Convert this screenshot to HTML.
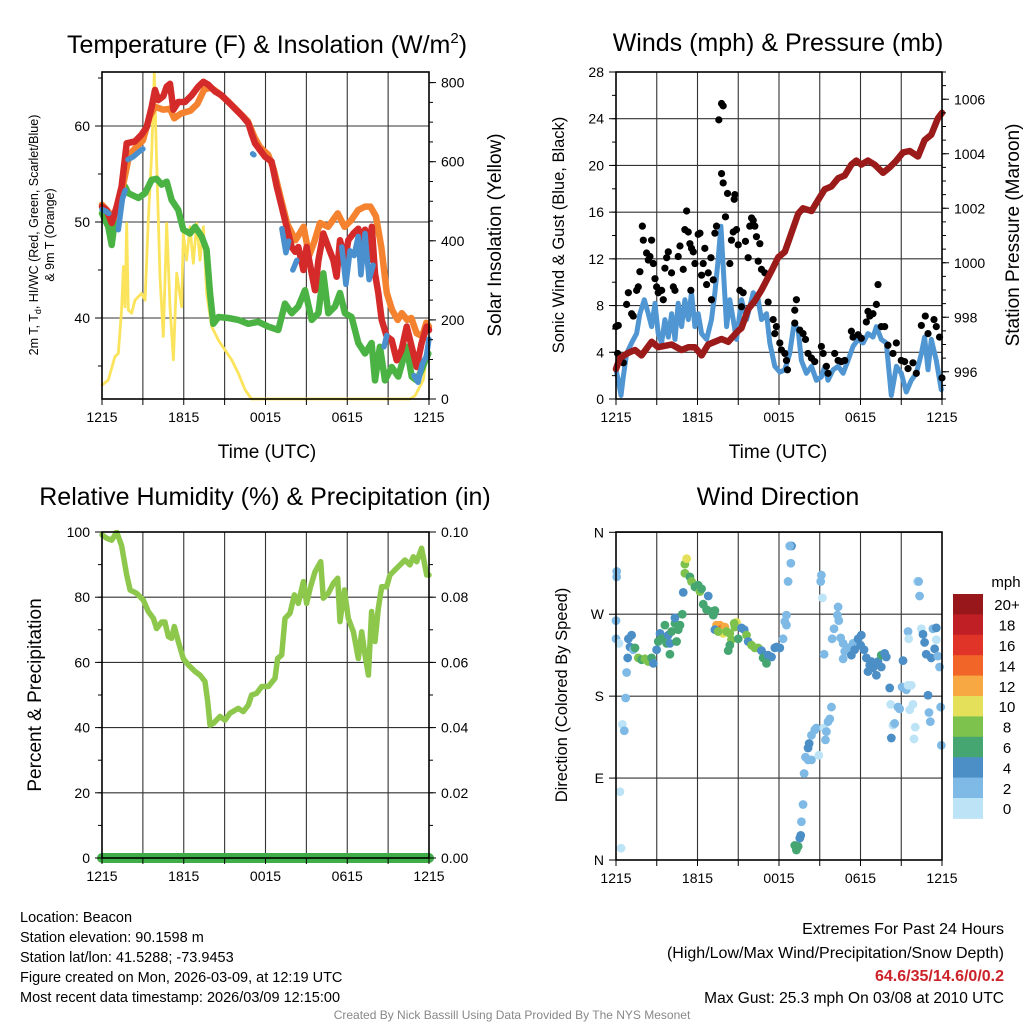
<!DOCTYPE html>
<html><head><meta charset="utf-8"><style>
html,body{margin:0;padding:0;background:#fff;width:1024px;height:1024px;overflow:hidden}
svg{display:block;font-family:"Liberation Sans",Arial,sans-serif}
</style></head><body>
<svg id="chart" width="1024" height="1024" viewBox="0 0 1024 1024" xmlns="http://www.w3.org/2000/svg">
<g id="grids"></g>
<g id="marks"></g>
<g id="axes"></g>
<g id="texts">
<text x="267" y="53" font-size="25" text-anchor="middle">Temperature (F) &amp; Insolation (W/m<tspan font-size="15" dy="-10">2</tspan><tspan dy="10">)</tspan></text>
<text x="778" y="51" font-size="25" text-anchor="middle">Winds (mph) &amp; Pressure (mb)</text>
<text x="265" y="505" font-size="25" text-anchor="middle">Relative Humidity (%) &amp; Precipitation (in)</text>
<text x="778" y="505" font-size="25" text-anchor="middle">Wind Direction</text>
<text x="267" y="458" font-size="19" text-anchor="middle">Time (UTC)</text>
<text x="778" y="458" font-size="19" text-anchor="middle">Time (UTC)</text>
<text font-size="12.5" text-anchor="middle" transform="translate(38,235) rotate(-90)">2m T, T<tspan font-size="9" dy="3">d</tspan><tspan dy="-3">, HI/WC (Red, Green, Scarlet/Blue)</tspan></text>
<text font-size="12.5" text-anchor="middle" transform="translate(54,235) rotate(-90)">&amp; 9m T (Orange)</text>
<text font-size="19" text-anchor="middle" transform="translate(501,235) rotate(-90)">Solar Insolation (Yellow)</text>
<text font-size="16.5" text-anchor="middle" transform="translate(564,235) rotate(-90)">Sonic Wind &amp; Gust (Blue, Black)</text>
<text font-size="19" text-anchor="middle" transform="translate(1019,235) rotate(-90)">Station Pressure (Maroon)</text>
<text font-size="19" text-anchor="middle" transform="translate(41,695) rotate(-90)">Percent &amp; Precipitation</text>
<text font-size="16.5" text-anchor="middle" transform="translate(567,695) rotate(-90)">Direction (Colored By Speed)</text>
<g font-size="14.5">
<text x="20" y="922">Location: Beacon</text>
<text x="20" y="942">Station elevation: 90.1598 m</text>
<text x="20" y="962">Station lat/lon: 41.5288; -73.9453</text>
<text x="20" y="982">Figure created on Mon, 2026-03-09, at 12:19 UTC</text>
<text x="20" y="1002">Most recent data timestamp: 2026/03/09 12:15:00</text>
</g>
<g font-size="16" text-anchor="end">
<text x="1004" y="934">Extremes For Past 24 Hours</text>
<text x="1004" y="958">(High/Low/Max Wind/Precipitation/Snow Depth)</text>
<text x="1004" y="981" font-weight="bold" fill="#cc2229">64.6/35/14.6/0/0.2</text>
<text x="1004" y="1003" font-size="15.5">Max Gust: 25.3 mph On 03/08 at 2010 UTC</text>
</g>
<text x="512" y="1019" font-size="12" fill="#888" text-anchor="middle">Created By Nick Bassill Using Data Provided By The NYS Mesonet</text>
<text x="1006" y="587" font-size="15" text-anchor="middle">mph</text>
</g>
</svg>
<script>
// ---------- DATA ----------
const xTickHours=[0,6,12,18,24];
const xTickLabels=["1215","1815","0015","0615","1215"];
const tempTicks=[40,50,60];
const solarTicks=[0,200,400,600,800];
const windTicks=[0,4,8,12,16,20,24,28];
const presTicks=[996,998,1000,1002,1004,1006];
const rhTicks=[0,20,40,60,80,100];
const precipTickLabels=["0.00","0.02","0.04","0.06","0.08","0.10"];
const dirTicks=[0,90,180,270,360];
const dirTickLabels=["N","E","S","W","N"];
const speedBinLabels=["0","2","4","6","8","10","12","14","16","18","20+"];
const speedColors=["#bde4f6","#7fbae6","#4b8fc6","#46a672","#7cc24d","#e5e05a","#f8a843","#f26529","#e03428","#c11f26","#98171b"];

const redH=[0,0.34,0.71,1.08,1.44,1.81,2.42,2.91,3.28,3.65,3.89,4.13,4.5,4.75,4.99,5.24,5.6,6.09,6.58,7.07,7.44,7.8,8.29,8.78,9.27,9.76,10.25,10.74,10.98,11.23,11.6,11.96,12.45,12.82,13.19,13.55,13.92,14.17,14.41,14.78,15.02,15.39,15.63,15.88,16.24,16.61,16.98,17.22,17.47,17.83,18.08,18.45,18.81,19.06,19.3,19.55,19.8,20.04,20.28,20.53,20.89,21.26,21.63,21.99,22.36,22.73,23.1,23.46,23.83,24];
const redT=[51.6,51.25,49.9,51.6,53.7,58.2,58.4,59.1,59.9,62.0,63.75,62.7,63.1,64.1,64.4,61.7,62.5,62.5,63.2,64.1,64.6,64.3,63.6,63.2,62.5,61.8,61.1,60.3,59.2,58.2,57.5,56.8,56.3,53.7,51.6,49.5,47.4,46.9,47.4,45.0,47.4,44.65,42.9,46.0,48.8,47.4,46.0,44.3,48.1,46.0,48.1,48.8,49.3,47.8,49.2,46.0,49.5,44.65,42.6,39.8,38.1,37.7,35.6,36.7,39.1,37.0,34.9,37.4,39.1,38.75];
const orangeH=[0,0.5,1,1.5,2,2.5,3,3.5,3.9,4.5,5,5.3,5.8,6.5,7,7.5,8,8.5,9.3,10,10.7,11.2,11.6,12.2,12.6,13.2,13.6,14.2,14.8,15.2,15.6,16,16.6,17.3,17.8,18.3,18.8,19.3,19.7,20.1,20.5,20.9,21.3,21.7,22,22.4,22.7,23.1,23.5,23.8,24];
const orangeT=[51.8,51,50.5,53.5,57,57.8,58.5,61,62,61.7,61.8,60.8,61.3,61.6,62.3,63.8,64,63.5,62.5,61.5,60.5,58.8,57.8,57,55.5,52,49.8,48.1,49.5,46.5,48,49.9,49.5,50.9,49.5,50.2,51.25,51.6,51.6,50.6,47.4,42.6,40.8,39.8,40.5,39.8,40,38.4,38.1,39.5,39.1];
// NaN marks a gap in the heat-index / wind-chill series
const blueH=[0,0.3,0.5,NaN,1.2,1.5,1.7,NaN,1.9,2.3,2.7,3.0,NaN,11.05,11.15,NaN,13.2,13.5,13.7,NaN,14.0,14.3,NaN,17.6,17.9,18.2,18.5,18.8,19.0,19.3,19.6,19.9,NaN,20.7,20.9,NaN,22.9,23.2,23.5,23.8,24];
const blueT=[51.3,51.1,50.9,NaN,49.2,52.4,53.3,NaN,56.5,56.8,57.3,57.6,NaN,57.1,57.0,NaN,49.3,46.8,48,NaN,45,46,NaN,47.4,43.5,47.0,46.5,48.5,44.5,48.8,44.0,45.5,NaN,37.0,38.2,NaN,34.0,33.3,35.2,36.0,37.8];
const dewH=[0,0.46,0.71,0.95,1.2,1.69,1.93,2.67,3.16,3.65,4.01,4.38,4.75,5.11,5.6,5.97,6.46,6.83,7.31,7.68,7.93,8.17,8.54,9.27,10.0,10.74,11.47,12.2,12.94,13.43,13.92,14.41,14.9,15.39,15.88,16.24,16.61,17.1,17.47,17.83,18.32,18.81,19.3,19.79,20.04,20.4,20.77,21.26,21.75,22.36,22.73,23.1,23.46,23.95];
const dewT=[50.9,49.5,47.6,50.2,51.9,53.7,53,52.5,53,54.4,54.5,53.9,54.2,52.3,51.25,49.2,48.8,49.5,48.5,47.1,42.6,39.4,40.1,40.0,39.8,39.4,39.6,39.1,38.75,41.5,40.5,41.2,42.9,39.8,40.5,44.65,40.5,41.2,42.6,40.5,40.1,37.4,36.3,37.4,33.5,37,33.5,34.9,33.9,37,33.9,33.5,34.6,36.3];
const solarH=[0,0.46,0.95,1.2,1.44,1.57,1.69,1.81,1.93,2.18,2.42,2.91,3.16,3.4,3.65,3.84,4.01,4.26,4.5,4.75,4.99,5.24,5.48,5.85,5.97,6.21,6.46,6.7,6.95,7.19,7.44,7.68,8.05,8.54,9.03,9.52,10.0,10.5,10.98,22.6,22.97,23.58,23.95];
const solarW=[35,48,107,115,225,335,233,444,225,217,250,267,250,453,621,823,604,309,158,444,233,99,318,233,419,351,436,343,444,351,436,267,183,149,124,99,65,23,0,0,8,48,142];

const windH=[0,0.17,0.37,0.54,0.78,1.15,1.52,1.76,2.08,2.38,2.62,2.87,3.11,3.36,3.6,3.85,4.09,4.34,4.58,4.83,5.07,5.32,5.56,5.81,6.05,6.3,6.67,7.03,7.28,7.52,7.72,7.89,8.14,8.38,8.63,8.87,9.24,9.61,9.85,10.1,10.47,10.71,11.08,11.32,11.69,12.06,12.43,12.79,13.11,13.41,13.65,14.02,14.39,14.75,15.12,15.37,15.61,15.98,16.35,16.72,17.08,17.45,17.82,18.19,18.55,18.92,19.17,19.53,19.9,20.27,20.64,21.0,21.37,21.74,22.11,22.48,22.72,22.97,23.21,23.58,23.95];
const windV=[2.5,1.6,0.3,1.9,3.9,4.8,5.6,7.3,8.5,7.3,6.2,8.2,5.6,4.8,6.8,5.3,7.3,5.1,8.2,6.2,8.5,6.8,9.1,6.2,7.3,5.6,5.1,6.8,9.1,11.9,14.8,11.3,6.2,8.5,6.8,5.1,8.5,6.8,7.9,9.1,8.5,6.8,7.3,4.8,2.8,2.3,2.5,3.9,6.5,5.9,3.3,2.2,2.8,1.6,1.9,2.8,1.6,2.5,2.8,2.2,3.3,4.5,5.1,4.8,5.6,5.3,6.2,5.1,4.8,0.3,2.8,2.2,0.6,1.6,2.2,3.9,5.3,2.5,5.1,3.3,0.8];
const gustH=[0,0.17,0.12,0.54,0.78,0.91,1.15,1.27,1.52,1.64,1.76,1.94,2.01,2.25,2.38,2.5,2.62,2.75,2.87,2.99,3.11,3.36,3.48,3.6,3.73,3.85,4.09,4.22,4.34,4.58,4.71,4.95,5.07,5.2,5.32,5.44,5.51,5.56,5.69,5.81,6.05,6.18,6.3,6.42,6.54,6.67,6.79,6.99,7.03,7.16,7.28,7.4,7.57,7.77,7.89,7.77,7.89,8.06,8.21,8.38,8.5,8.63,8.7,8.75,8.87,9.0,9.12,9.24,9.36,9.53,9.73,9.85,9.98,10.1,10.22,10.34,10.47,10.59,10.71,10.96,11.2,11.57,11.69,11.81,12.06,12.18,12.43,12.55,12.62,13.16,13.28,13.16,13.53,13.77,13.95,14.14,14.39,14.63,15.12,15.25,15.49,15.61,16.1,16.35,16.59,16.84,17.33,17.45,17.82,18.06,18.43,18.55,18.68,18.92,19.17,19.29,19.53,19.78,20.02,20.39,20.64,21.0,21.25,21.5,21.86,22.11,22.48,22.77,22.97,23.41,23.58,23.82,24.0];
const gustV=[6.2,6.3,3.9,3.1,8.1,9.1,7.3,7.1,9.3,9.6,10.9,14.8,13.6,12.5,11.9,12.2,13.6,11.6,10.3,9.6,9.1,9.3,8.5,11.2,12.1,12.6,10.8,9.6,9.3,12.2,13.1,11.1,14.5,16.1,14.3,13.3,9.3,12.9,12.6,11.6,14.1,14.2,10.6,11.6,12.9,9.8,10.8,12.1,8.5,10.2,14.2,14.8,23.9,25.3,25.1,19.3,18.5,15.6,17.6,11.6,13.6,14.3,17.1,17.5,14.5,13.2,9.3,7.9,9.1,13.5,12.1,14.8,15.5,15.3,14.8,13.9,11.8,13.3,11.1,10.8,8.3,6.8,5.6,6.2,4.8,4.2,3.9,3.3,2.5,7.6,8.5,6.5,5.9,5.6,5.1,3.9,3.5,3.2,4.5,3.9,2.8,2.2,3.9,3.3,3.2,3.3,5.8,5.3,5.5,5.2,6.6,7.5,7.1,7.3,8.1,9.8,6.2,6.2,4.6,3.9,4.8,3.3,3.2,2.6,3.1,2.2,6.3,7.1,5.6,6.8,6.2,5.3,1.8];
const presH=[0,0.29,0.91,1.4,1.88,2.62,3.11,4.09,4.83,5.32,5.81,6.3,6.79,7.77,8.26,8.99,9.24,9.73,10.22,10.71,11.45,11.94,12.43,12.92,13.41,13.77,14.39,14.88,15.37,15.86,16.35,16.84,17.33,17.7,18.06,18.55,19.04,19.66,20.15,20.64,21.13,21.62,22.23,22.72,23.21,23.7,24.0];
const presV=[996.1,996.5,996.7,996.8,996.6,997.1,996.9,997.0,996.8,996.9,996.9,996.6,997.0,997.2,997.1,997.5,997.6,998.3,998.6,999.0,999.7,1000.2,1000.4,1001.1,1001.8,1002.0,1001.9,1002.3,1002.7,1002.8,1003.1,1003.2,1003.6,1003.75,1003.6,1003.75,1003.6,1003.3,1003.5,1003.75,1004.05,1004.1,1003.9,1004.5,1004.7,1005.3,1005.5];

const rhH=[0,0.34,0.71,1.08,1.44,1.81,2.06,2.54,3.03,3.4,3.77,4.01,4.38,4.62,4.87,5.11,5.31,5.6,5.97,6.34,6.83,7.19,7.56,7.76,7.93,8.17,8.66,9.03,9.39,10.0,10.37,10.74,10.98,11.35,11.72,12.21,12.7,12.89,13.19,13.43,13.8,14.12,14.41,14.78,15.02,15.27,15.63,16.05,16.24,16.61,16.98,17.3,17.47,17.79,18.08,18.45,18.81,19.06,19.3,19.55,19.79,20.04,20.28,20.53,20.89,21.14,21.63,22.24,22.6,22.85,23.1,23.46,23.83,24];
const rhV=[99.1,98.1,97.5,100,95.8,86.8,82.2,81.2,79.1,75.6,73.5,70.4,72.4,72.4,67.9,67.4,71,66.4,61.2,59.2,57.2,56.1,54.1,48,40.8,41.3,43.4,42.3,44.4,45.9,44.9,46.9,50,50.5,52.6,52.6,55.1,61.2,62.3,73.5,75.1,80.7,78.1,84.8,78.1,82.7,87.8,90.9,79.7,81.2,84.3,85.8,72.5,82.2,73.5,69.4,61.2,69.4,62.3,56.1,75.6,66.4,76.6,83.2,83.2,86.8,88.9,91.4,89.9,92.4,90.9,95,86.8,86.8];
const precipH=[0,24];
const precipV=[0,0];

const dirH=[0.05,0.05,0,0,0.22,0.91,1.15,1.03,1.27,1.4,0.86,0.78,0.71,0.47,0.61,0.29,0.37,1.64,1.89,2.13,2.38,2.62,2.75,2.99,3.11,3.24,3.36,3.6,3.73,3.85,3.97,4.09,4.34,4.46,4.58,4.71,4.88,4.95,4.34,3.97,5.07,5.2,5.07,5.44,5.56,5.81,6.05,6.18,6.3,6.79,6.42,6.67,7.03,7.28,7.16,7.4,7.65,7.82,8.01,7.89,7.28,7.52,8.14,8.38,8.5,8.75,8.87,8.7,9.0,9.24,9.44,8.38,8.26,9.61,9.73,9.98,10.22,10.47,10.71,10.96,10.83,11.2,11.45,11.08,11.69,11.81,12.06,12.3,12.92,12.79,12.87,12.67,12.55,12.43,12.55,13.16,13.28,13.41,13.53,13.6,13.65,13.77,13.85,14.14,14.39,13.95,14.14,14.22,14.39,14.63,14.75,14.93,15.32,15.49,15.42,15.74,15.61,15.86,15.12,15.07,15.2,15.32,16.35,16.3,16.4,16.05,15.91,16.54,16.72,16.84,16.72,17.08,17.45,17.57,17.82,18.06,18.01,18.26,17.33,18.43,18.8,18.68,19.04,18.92,18.55,19.29,19.17,19.53,19.78,19.9,19.53,20.15,20.22,20.39,20.51,20.27,20.76,20.88,21.06,21.13,21.37,21.5,21.74,21.62,21.86,21.5,21.55,22.03,21.94,22.18,22.28,22.35,22.48,22.6,22.72,22.84,22.97,23.04,23.14,23.33,23.58,23.46,23.21,23.7,23.82,23.9,23.95,23.58];
const dirDeg=[317,311,263,243,238,243,247,234,231,233,222,206,178,149,142,75,13,222,220,221,218,222,216,231,240,249,243,258,238,247,238,251,260,240,253,258,270,294,266,226,325,331,315,311,306,300,302,295,298,290,281,275,273,274,269,258,258,254,256,249,253,251,251,249,242,256,261,260,243,255,253,236,230,247,240,236,233,233,230,225,222,225,223,216,233,234,233,243,345,345,326,306,269,262,258,16,11,15,24,27,42,61,95,110,110,113,123,128,137,143,145,115,145,141,132,155,152,168,313,306,288,226,278,269,263,254,243,244,238,229,221,233,238,231,243,247,236,231,225,222,218,214,216,211,207,218,203,225,227,223,212,189,171,148,150,134,168,166,190,219,187,192,192,165,171,251,243,146,133,306,306,290,254,248,239,226,181,162,152,254,255,232,222,224,212,168,126,242];
const dirSpd=[2,3,2,3,1,4,4,4,3,6,4,2,2,1,2,1,1,8,7,8,8,6,4,4,6,4,6,6,6,4,4,6,6,6,6,6,6,4,4,6,9,10,8,6,8,6,6,8,6,4,6,6,6,6,6,12,13,15,12,10,4,8,8,8,8,8,10,8,6,4,4,6,6,8,4,8,8,8,4,4,6,4,4,6,4,4,4,2,4,3,2,2,2,2,2,6,6,6,4,4,2,2,2,2,2,2,4,4,2,2,2,1,1,2,2,2,2,2,2,2,1,2,2,2,2,2,2,2,2,2,2,2,2,4,4,4,4,4,4,4,4,4,4,4,4,4,4,6,4,4,4,4,1,1,2,4,2,2,2,4,2,1,1,1,1,2,1,1,1,1,2,2,1,4,4,4,4,2,2,2,4,4,4,2,2,2,2,1,2];

// ---------- SCALES ----------
const P1={l:102,r:429,t:72,b:399};
const P2={l:616,r:942,t:72,b:399};
const P3={l:102,r:429,t:532,b:858};
const P4={l:616,r:942,t:532,b:860};
const x1=h=>P1.l+h*(P1.r-P1.l)/24;
const x2=h=>P2.l+h*(P2.r-P2.l)/24;
const yTemp=v=>318-(v-40)*9.6;
const ySolar=v=>399-v*0.3955;
const yWind=v=>399-v*(327/28);
const yPres=v=>399-(v-995)*27.25;
const yRH=v=>858-v*3.26;
const yPrecip=v=>858-v*3260;
const yDir=v=>860-v*(327.7/360);

const NS="http://www.w3.org/2000/svg";
const grids=document.getElementById('grids');
const marks=document.getElementById('marks');
const axes=document.getElementById('axes');
function mk(tag,attrs,parent){const e=document.createElementNS(NS,tag);for(const k in attrs)e.setAttribute(k,attrs[k]);parent.appendChild(e);return e;}

function pathFrom(hs,vs,xf,yf){let d="",pen=false;for(let i=0;i<hs.length;i++){if(isNaN(hs[i])||isNaN(vs[i])){pen=false;continue;}d+=(pen?"L":"M")+xf(hs[i]).toFixed(1)+","+yf(vs[i]).toFixed(1);pen=true;}return d;}
function line(name,hs,vs,xf,yf,color,w,clip){const p=mk('path',{d:pathFrom(hs,vs,xf,yf),fill:'none',stroke:color,'stroke-width':w,'stroke-linejoin':'round','stroke-linecap':'round'},marks);


if(clip)p.setAttribute('clip-path',clip);return p;}

const defs=mk('defs',{},document.getElementById('chart'));
[[P1,'c1'],[P2,'c2'],[P3,'c3'],[P4,'c4']].forEach(([P,id])=>{const c=mk('clipPath',{id:id},defs);mk('rect',{x:P.l-6,y:P.t-2,width:P.r-P.l+12,height:P.b-P.t+8},c);});

// ---------- GRIDS ----------
function vgrid(P,xf){for(let h=3;h<24;h+=3){const g=mk('line',{x1:xf(h),x2:xf(h),y1:P.t,y2:P.b,stroke:'#333','stroke-width':1.1},grids);

}}
function hgrid(P,ys){ys.forEach(y=>{const g=mk('line',{x1:P.l,x2:P.r,y1:y,y2:y,stroke:'#333','stroke-width':1.1},grids);

});}
vgrid(P1,x1);vgrid(P2,x2);vgrid(P3,x1);vgrid(P4,x2);
hgrid(P1,tempTicks.map(yTemp));
hgrid(P2,windTicks.map(yWind));
hgrid(P3,rhTicks.map(yRH));
hgrid(P4,dirTicks.map(yDir));

// ---------- MARKS ----------
line('solar-insolation-line',solarH,solarW,x1,ySolar,'#fbe45b',2.8,'url(#c1)');
line('dewpoint-line',dewH,dewT,x1,yTemp,'#4bb344',6.5,'url(#c1)');
line('temp-9m-line',orangeH,orangeT,x1,yTemp,'#f5822f',6.5,'url(#c1)');
line('temp-2m-line',redH,redT,x1,yTemp,'#d42a2a',6.5,'url(#c1)');
line('heat-index-windchill-line',blueH,blueT,x1,yTemp,'#4a90cf',5.5,'url(#c1)');

line('sonic-wind-line',windH,windV,x2,yWind,'#5096d2',5,'url(#c2)');
gustH.forEach((h,i)=>{const c=mk('circle',{cx:x2(h),cy:yWind(gustV[i]),r:3.6,fill:'#000'},marks);

});
line('station-pressure-line',presH,presV,x2,yPres,'#9b1b1b',6.5,'url(#c2)');

line('relative-humidity-line',rhH,rhV,x1,yRH,'#8dc84d',5.5,'url(#c3)');
const pl=line('precipitation-line',precipH,precipV,x1,yPrecip,'#3fae49',10,null);
pl.setAttribute('stroke-linecap','round');

dirH.forEach((h,i)=>{const bin=Math.min(10,Math.floor(dirSpd[i]/2));const c=mk('circle',{cx:x2(h),cy:yDir(dirDeg[i]),r:4.4,fill:speedColors[bin]},marks);

});

// ---------- AXES ----------
function frame(P,name){const r=mk('rect',{x:P.l,y:P.t,width:P.r-P.l,height:P.b-P.t,fill:'none',stroke:'#000','stroke-width':1.6},axes);

}
frame(P1,'temperature-plot-frame');frame(P2,'winds-plot-frame');frame(P3,'humidity-plot-frame');frame(P4,'direction-plot-frame');

function tick(x1_,y1_,x2_,y2_){mk('line',{x1:x1_,y1:y1_,x2:x2_,y2:y2_,stroke:'#000','stroke-width':1},axes);}
function label(txt,x,y,anchor,name,size){const t=mk('text',{x:x,y:y,'font-size':size||14,'text-anchor':anchor},axes);t.textContent=txt;

}

function xAxis(P,xf){for(let h=0;h<=24;h+=3){tick(xf(h),P.b,xf(h),P.b+6);}
xTickHours.forEach((h,i)=>label(xTickLabels[i],xf(h),P.b+23,'middle','x-tick-label'));}
xAxis(P1,x1);xAxis(P2,x2);xAxis(P3,x1);xAxis(P4,x2);

function yLeft(P,ticks,yf,labels,minorStep,lo,hi){ticks.forEach((v,i)=>{tick(P.l-7,yf(v),P.l,yf(v));label(labels?labels[i]:String(v),P.l-12,yf(v)+5,'end','y-tick-label');});
if(minorStep)for(let v=lo;v<=hi+1e-9;v+=minorStep){const y=yf(v);if(y>=P.t&&y<=P.b)tick(P.l-4,y,P.l,y);}}
function yRight(P,ticks,yf,labels,minorStep,lo,hi){ticks.forEach((v,i)=>{tick(P.r,yf(v),P.r+7,yf(v));label(labels?labels[i]:String(v),P.r+12,yf(v)+5,'start','y-tick-label');});
if(minorStep)for(let v=lo;v<=hi+1e-9;v+=minorStep){const y=yf(v);if(y>=P.t&&y<=P.b)tick(P.r,y,P.r+4,y);}}
yLeft(P1,tempTicks,yTemp,null,5,30,65);
yRight(P1,solarTicks,ySolar,null,50,0,800);
yLeft(P2,windTicks,yWind,null,2,0,28);
yRight(P2,presTicks,yPres,null,0.5,995,1007);
yLeft(P3,rhTicks,yRH,null,10,0,100);
yRight(P3,[0,0.02,0.04,0.06,0.08,0.10],yPrecip,precipTickLabels,0.01,0,0.1);
yLeft(P4,dirTicks,yDir,dirTickLabels,null);

// ---------- COLORBAR ----------
const cb=mk('g',{},axes);


const cbTop=594,cbH=20.4;
speedBinLabels.forEach((lab,i)=>{const k=10-i;const y=cbTop+i*cbH;
const r=mk('rect',{x:953,y:y,width:30,height:cbH+0.5,fill:speedColors[k]},cb);


const t=mk('text',{x:1007,y:y+cbH/2+6,'font-size':15,'text-anchor':'middle'},cb);t.textContent=speedBinLabels[k];

});
</script>
</body></html>
